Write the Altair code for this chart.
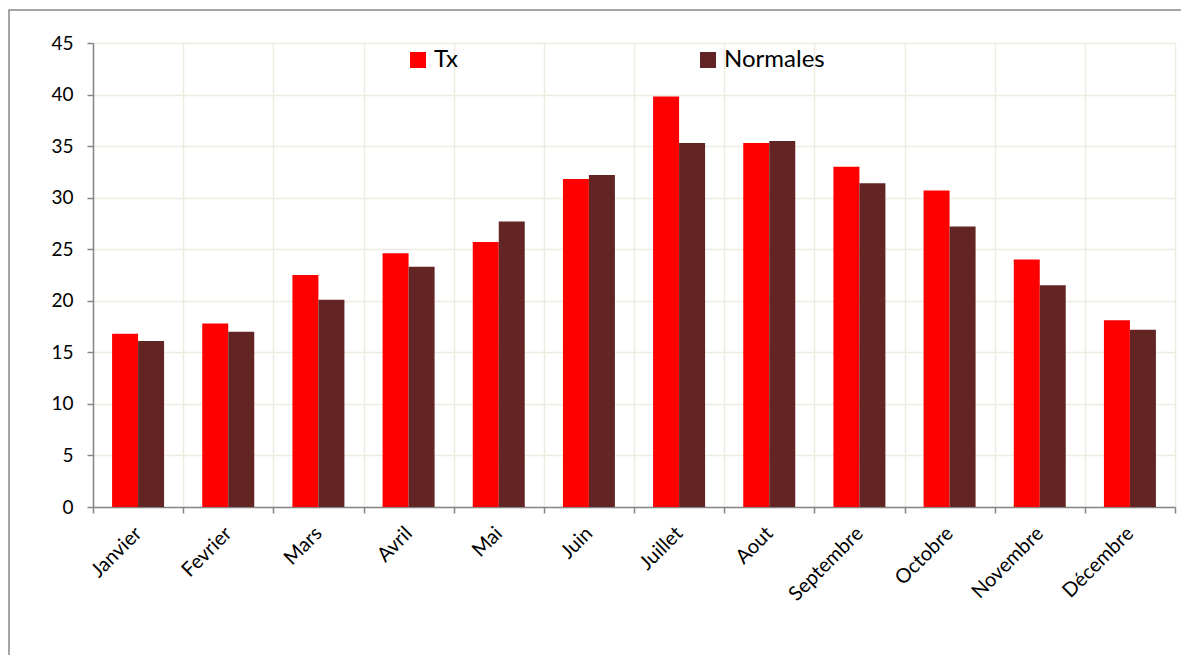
import altair as alt
import pandas as pd

months = ["Janvier", "Fevrier", "Mars", "Avril", "Mai", "Juin", "Juillet",
          "Aout", "Septembre", "Octobre", "Novembre", "Décembre"]
tx = [16.8, 17.8, 22.5, 24.6, 25.7, 31.8, 39.8, 35.3, 33.0, 30.7, 24.0, 18.1]
normales = [16.1, 17.0, 20.1, 23.3, 27.7, 32.2, 35.3, 35.5, 31.4, 27.2, 21.5, 17.2]
series = ["Tx", "Normales"]
colors = ["#FF0000", "#632523"]
y_ticks = [0, 5, 10, 15, 20, 25, 30, 35, 40, 45]

rows = []
for m, a, b in zip(months, tx, normales):
    rows.append({"mois": m, "serie": "Tx", "valeur": a})
    rows.append({"mois": m, "serie": "Normales", "valeur": b})
df = pd.DataFrame(rows)

W, H = 1082, 464
FONT = "Lato"

bars = alt.Chart(df).mark_bar().encode(
    x=alt.X("mois:N", sort=months,
            scale=alt.Scale(paddingInner=0, paddingOuter=0),
            axis=alt.Axis(title=None, labelAngle=-45, labelAlign="right",
                          labelBaseline="middle", labelPadding=17,
                          labelFontSize=20,
                          tickBand="extent", grid=True, tickSize=6)),
    xOffset=alt.XOffset("serie:N", sort=series,
                        scale=alt.Scale(paddingInner=0, paddingOuter=0.734)),
    y=alt.Y("valeur:Q", scale=alt.Scale(domain=[0, 45], nice=False),
            axis=alt.Axis(title=None, values=y_ticks, tickSize=6,
                          labelPadding=14, grid=True)),
    color=alt.Color("serie:N", sort=series,
                    scale=alt.Scale(domain=series, range=colors),
                    legend=alt.Legend(title=None, orient="none", legendX=313,
                                      legendY=5, direction="horizontal",
                                      columnPadding=238, symbolType="square",
                                      symbolSize=256, symbolStrokeWidth=0,
                                      labelFontSize=24, labelFont=FONT,
                                      labelColor="#000000", labelOffset=4)),
)

frame = alt.Chart(pd.DataFrame({"k": [0]})).mark_rect(
    fillOpacity=0, stroke="#868686", strokeWidth=1.5
).encode(
    x=alt.value(-84), x2=alt.value(W + 100),
    y=alt.value(-33), y2=alt.value(H + 300),
)

chart = alt.layer(frame, bars).properties(
    width=W, height=H,
    autosize=alt.AutoSizeParams(type="none"),
    padding={"left": 85, "top": 35, "right": 6, "bottom": 148},
).configure_view(stroke=None).configure_axis(
    gridColor="#EEECE1", gridWidth=1.5,
    domainColor="#868686", domainWidth=1.5,
    tickColor="#868686", tickWidth=1.5,
    labelFont=FONT, labelFontSize=19, labelColor="#000000",
)

chart.save("out.html", embed_options={"renderer": "svg", "actions": False})
